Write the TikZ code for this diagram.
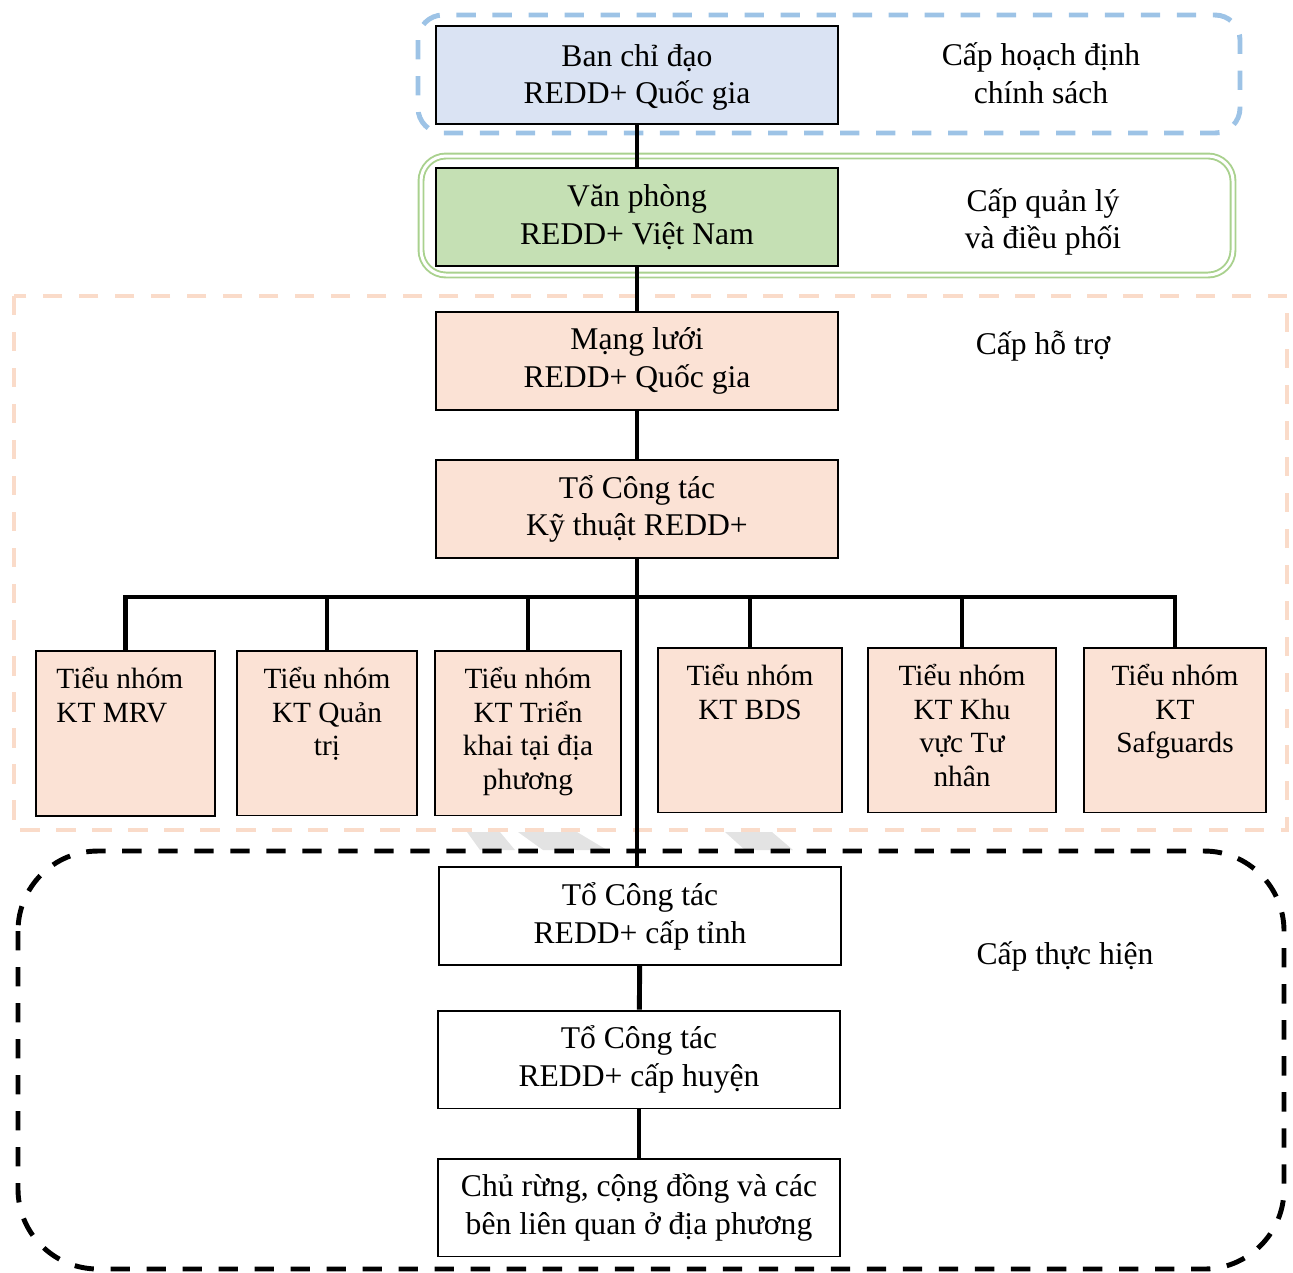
\documentclass[tikz,border=0pt]{standalone}
\usepackage{fontspec}
\setmainfont{Liberation Serif}
\usetikzlibrary{positioning}
\definecolor{bluefill}{HTML}{DAE3F3}
\definecolor{blueline}{HTML}{9DC3E6}
\definecolor{greenfill}{HTML}{C5E0B4}
\definecolor{greenline}{HTML}{A9D18E}
\definecolor{peachfill}{HTML}{FBE2D5}
\definecolor{peachline}{HTML}{FADBC9}

\begin{document}
\begin{tikzpicture}[x=0.02cm, y=-0.02cm,
  box/.style={rectangle, draw, line width=1.1pt, minimum width=8.04cm, minimum height=1.96cm,
              align=center, font=\fontsize{18}{21.5}\selectfont},
  sub/.style={rectangle, draw, line width=1.1pt, fill=peachfill, minimum height=3.3cm},
  subtxt/.style={align=center, inner sep=0pt, anchor=north, yshift=-0.34cm,
                 font=\fontsize{16.7}{19.3}\selectfont},
  level/.style={align=center, font=\fontsize{18}{21.5}\selectfont},
  conn/.style={line width=2.8pt},
  zone/.style={line width=2.8pt, dash pattern=on 11pt off 9.5pt}
]
\useasboundingbox (0,0) rectangle (1293,1272);
% zones
\draw[zone, blueline, rounded corners=0.5cm] (418,15) rectangle (1240,133);
\draw[greenline, line width=1.1pt, double=white, double distance=1.7pt, rounded corners=0.5cm]
  (421,156) rectangle (1233,275);
\draw[zone, peachline] (14,296) rectangle (1287,830);
\fill[gray!22] (467,832) -- (500,832) -- (515,850) -- (480,850) -- cycle;
\fill[gray!22] (518,832) -- (577,832) -- (607,850) -- (543,850) -- cycle;
\fill[gray!22] (725,832) -- (772,832) -- (793,850) -- (745,850) -- cycle;
\draw[zone, black, rounded corners=1.6cm] (18,851) rectangle (1284,1269);

% main boxes
\node[box, fill=bluefill, text depth=0.25ex] (bcd) at (637,75) {Ban chỉ đạo\\REDD+ Quốc gia};
\node[box, fill=greenfill] (vp)    at (637,217)    {Văn phòng\\REDD+ Việt Nam};
\node[box, fill=peachfill] (ml)    at (637,361)    {Mạng lưới\\REDD+ Quốc gia};
\node[box, fill=peachfill] (tokt)  at (637,509)    {Tổ Công tác\\Kỹ thuật REDD+};
\node[box]                 (tinh)  at (640,916)    {Tổ Công tác\\REDD+ cấp tỉnh};
\node[box]                 (huyen) at (639,1059.5) {Tổ Công tác\\REDD+ cấp huyện};
\node[box]                 (chu)   at (639,1207.5) {Chủ rừng, cộng đồng và các\\bên liên quan ở địa phương};

% levels
\node[level] (lvhd) at (1041,73)  {Cấp hoạch định\\chính sách};
\node[level] (lvql) at (1043,222) {Cấp quản lý\\và điều phối};
\node[level] (lvht) at (1043,346) {Cấp hỗ trợ};
\node[level] (lvth) at (1065,956) {Cấp thực hiện};

% sub-groups
\node[sub, minimum width=3.58cm,
      label={[subtxt, align=left, anchor=north west, xshift=0.42cm]north west:Tiểu nhóm\\KT MRV}]
      (mrv) at (125.5,733.5) {};
\node[sub, minimum width=3.6cm, label={[subtxt]north:Tiểu nhóm\\KT Quản\\trị}]
      (qt) at (327,733) {};
\node[sub, minimum width=3.72cm, label={[subtxt]north:Tiểu nhóm\\KT Triển\\khai tại địa\\phương}]
      (tk) at (528,733) {};
\node[sub, minimum width=3.68cm, label={[subtxt]north:Tiểu nhóm\\KT BDS}]
      (bds) at (750,730) {};
\node[sub, minimum width=3.76cm, label={[subtxt]north:Tiểu nhóm\\KT Khu\\vực Tư\\nhân}]
      (ktn) at (962,730) {};
\node[sub, minimum width=3.64cm, label={[subtxt]north:Tiểu nhóm\\KT\\Safguards}]
      (sfg) at (1175,730) {};

% connectors
\coordinate (bar) at (637,597);
\draw[conn] (bcd)  -- (vp);
\draw[conn] (vp)   -- (ml);
\draw[conn] (ml)   -- (tokt);
\draw[conn] (tokt.south) -- (tokt.south |- tinh.north);
\draw[conn] (tinh) -- (huyen);
\draw[conn] (huyen) -- (chu);
\draw[conn] (mrv.north) -- (mrv.north |- bar) -- (sfg.north |- bar) -- (sfg.north);
\draw[conn] (qt.north)  -- (qt.north |- bar);
\draw[conn] (tk.north)  -- (tk.north |- bar);
\draw[conn] (bds.north) -- (bds.north |- bar);
\draw[conn] (ktn.north) -- (ktn.north |- bar);
\end{tikzpicture}
\end{document}
